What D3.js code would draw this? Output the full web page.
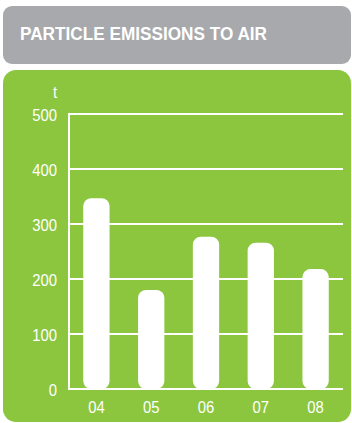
<!DOCTYPE html>
<html>
<head>
<meta charset="utf-8">
<script src="https://cdn.jsdelivr.net/npm/d3@7"></script>
<style>
  html, body { margin: 0; padding: 0; background: #ffffff; }
  svg { display: block; }
</style>
</head>
<body>
<svg id="chart" width="352" height="423"></svg>
<script>
// Particle emissions to air, tonnes per year
const years = ["04", "05", "06", "07", "08"];
const emissions = [347, 180, 277, 266, 218];
const yTicks = [0, 100, 200, 300, 400, 500];
const title = "PARTICLE EMISSIONS TO AIR";
const unit = "t";

const green = "#8cc63f";
const grey = "#a7a9ac";
const numFont = "'Liberation Sans', Arial, sans-serif";
const numSize = 16.5;
const squeeze = 0.9; // narrow the numerals horizontally

const svg = d3.select("#chart");

// Header band
svg.append("rect")
  .attr("x", 3).attr("y", 6).attr("width", 348).attr("height", 58)
  .attr("rx", 9).attr("fill", grey);
svg.append("text")
  .attr("x", 20).attr("y", 39.5)
  .attr("fill", "#ffffff")
  .attr("font-family", "'Liberation Sans', Arial, sans-serif")
  .attr("font-weight", "bold")
  .attr("font-size", 17.5)
  .attr("textLength", 247)
  .attr("lengthAdjust", "spacingAndGlyphs")
  .text(title);

// Green panel
svg.append("rect")
  .attr("x", 3).attr("y", 70).attr("width", 348).attr("height", 352)
  .attr("rx", 13).attr("fill", green);

const x = d3.scaleBand()
  .domain(years)
  .range([69, 343])
  .paddingInner(0.52)
  .paddingOuter(0.26);

const y = d3.scaleLinear()
  .domain([0, 500])
  .range([389, 114]);

// Gridlines
svg.append("g")
  .selectAll("line")
  .data(yTicks)
  .join("line")
  .attr("x1", 69).attr("x2", 343)
  .attr("y1", d => y(d)).attr("y2", d => y(d))
  .attr("stroke", "#ffffff").attr("stroke-width", 2);

// Y axis line
svg.append("line")
  .attr("x1", 69).attr("x2", 69)
  .attr("y1", y(500) - 1).attr("y2", y(0) + 1)
  .attr("stroke", "#ffffff").attr("stroke-width", 2);

function styleNumbers(sel) {
  sel.each(function () {
    const t = d3.select(this);
    const tx = +t.attr("x") || 0;
    const ty = +t.attr("y") || 0;
    t.attr("x", 0).attr("y", 0)
      .attr("transform", `translate(${tx},${ty}) scale(${squeeze},1)`);
  })
    .attr("fill", "#ffffff")
    .attr("font-family", numFont)
    .attr("font-size", numSize);
}

// Y axis labels
const yAxis = d3.axisLeft(y).tickValues(yTicks).tickSize(0).tickPadding(12);
const gy = svg.append("g").attr("transform", "translate(69,0)").call(yAxis);
gy.select(".domain").remove();
gy.selectAll("text").call(styleNumbers).attr("dy", "0.38em");

svg.append("text")
  .attr("text-anchor", "end")
  .attr("transform", `translate(57,98) scale(${squeeze},1)`)
  .attr("fill", "#ffffff")
  .attr("font-family", numFont)
  .attr("font-size", numSize)
  .text(unit);

// Bars with rounded ends
svg.append("g")
  .selectAll("rect")
  .data(emissions)
  .join("rect")
  .attr("x", (d, i) => x(years[i]))
  .attr("width", x.bandwidth())
  .attr("y", d => y(d))
  .attr("height", d => y(0) - y(d))
  .attr("rx", 8)
  .attr("fill", "#ffffff");

// X axis labels
const xAxis = d3.axisBottom(x).tickSize(0).tickPadding(12);
const gx = svg.append("g").attr("transform", `translate(0,${y(0)})`).call(xAxis);
gx.select(".domain").remove();
gx.selectAll("text").call(styleNumbers);
</script>
</body>
</html>
